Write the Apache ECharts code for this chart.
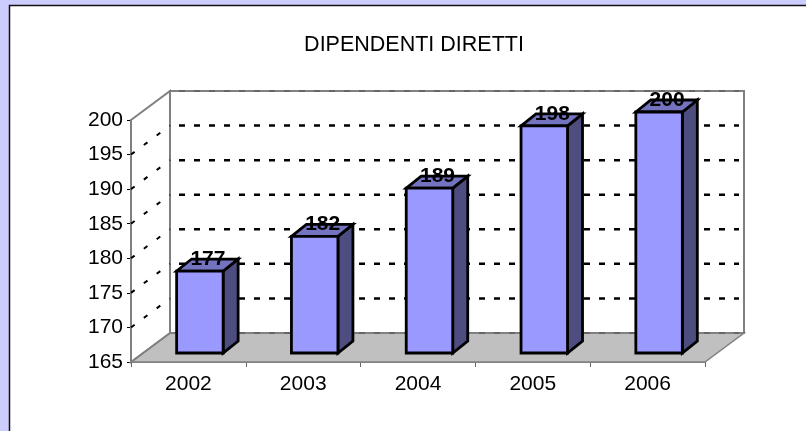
<!DOCTYPE html>
<html>
<head>
<meta charset="utf-8">
<style>
  html, body { margin: 0; padding: 0; background: #ccccff; }
  #chart { width: 806px; height: 431px; }
</style>
<script src="https://cdn.jsdelivr.net/npm/echarts@6/dist/echarts.min.js"></script>
</head>
<body>
<div id="chart"></div>
<script>
// Dipendenti diretti per anno
const years = ['2002', '2003', '2004', '2005', '2006'];
const employees = [177, 182, 189, 198, 200];
const yTicks = [165, 170, 175, 180, 185, 190, 195, 200];

const font = '"Liberation Sans", Arial, sans-serif';
const yMin = yTicks[0];
const yMax = yTicks[yTicks.length - 1];
// the back wall sits this far from the front plane
const depthX = 39;
const depthY = -29;

const chart = echarts.init(document.getElementById('chart'));

function poly(points, fill, stroke, lineWidth) {
    return {
        type: 'polygon',
        shape: { points: points },
        style: { fill: fill, stroke: stroke || 'none', lineWidth: lineWidth || 0, lineJoin: 'miter' }
    };
}

function dashed(x1, y1, x2, y2, lineWidth, dash, color) {
    return {
        type: 'line',
        shape: { x1: x1, y1: y1, x2: x2, y2: y2 },
        style: { stroke: color || '#000', lineWidth: lineWidth, lineDash: dash }
    };
}

// floor, walls and gridlines of the box
function renderBox(params, api) {
    const x0 = params.coordSys.x;
    const x1 = x0 + params.coordSys.width;
    const yTop = api.coord([0, yMax])[1];
    const yBottom = api.coord([0, yMin])[1];
    const children = [];

    children.push(poly([[x0, yBottom], [x1, yBottom], [x1 + depthX, yBottom + depthY], [x0 + depthX, yBottom + depthY]], '#c0c0c0', '#808080', 1.5));
    children.push(poly([[x0, yTop], [x0 + depthX, yTop + depthY], [x0 + depthX, yBottom + depthY], [x0, yBottom]], 'none', '#808080', 2));
    children.push(poly([[x0 + depthX, yTop + depthY], [x1 + depthX, yTop + depthY], [x1 + depthX, yBottom + depthY], [x0 + depthX, yBottom + depthY]], 'none', '#808080', 2));

    yTicks.forEach(function (t) {
        const y = api.coord([0, t])[1];
        if (t === yMin || t === yMax) {
            // the gridline shows faintly over the grey edge of the box
            children.push(dashed(x0 + depthX + 9, y + depthY, x1 + depthX - 5, y + depthY, 2, [6, 9], '#666'));
            return;
        }
        children.push(dashed(x0, y, x0 + depthX, y + depthY, 2, [4.5, 11.5]));
        children.push(dashed(x0 + depthX + 9, y + depthY, x1 + depthX - 5, y + depthY, 2.5, [6, 9]));
    });
    return { type: 'group', children: children };
}

// one column: front, top and side faces plus its value
function renderColumn(params, api) {
    const centre = api.coord([api.value(0), api.value(1)]);
    const base = api.coord([api.value(0), yMin]);
    const band = api.size([1, 0])[0];
    const w = band * 0.405;
    const shiftX = band * 0.1;
    const left = centre[0] + shiftX - w / 2;
    const right = left + w;
    const top = centre[1] - 8;
    const bottom = base[1] - 9;
    const dx = 15;
    const dy = -12;
    return {
        type: 'group',
        children: [
            poly([[right, top], [right + dx, top + dy], [right + dx, bottom + dy], [right, bottom]], '#4d4d80', '#000', 2.8),
            poly([[left, top], [right, top], [right + dx, top + dy], [left + dx, top + dy]], '#7373bf', '#000', 2.8),
            poly([[left, top], [right, top], [right, bottom], [left, bottom]], '#9999ff', '#000', 2.8),
            {
                type: 'text',
                z2: 20,
                style: {
                    x: centre[0] + 19.5,
                    y: top - 12,
                    text: String(api.value(1)),
                    fill: '#000',
                    font: 'bold 21px ' + font,
                    align: 'center',
                    verticalAlign: 'middle'
                }
            }
        ]
    };
}

chart.setOption({
    animation: false,
    backgroundColor: '#ccccff',
    graphic: [{
        type: 'rect',
        z: -10,
        shape: { x: 9.5, y: 5.5, width: 820, height: 460 },
        style: { fill: '#fff', stroke: '#111', lineWidth: 1.5 }
    }],
    title: {
        text: 'DIPENDENTI DIRETTI',
        left: 409,
        top: 29,
        textAlign: 'center',
        textStyle: { fontFamily: font, fontSize: 21.5, fontWeight: 'normal', color: '#000' }
    },
    grid: { left: 131, right: 101, top: 120, bottom: 69 },
    xAxis: {
        type: 'category',
        data: years,
        axisLine: { lineStyle: { color: '#666', width: 1.5 } },
        axisTick: { show: true, length: 5, alignWithLabel: false, lineStyle: { color: '#666' } },
        axisLabel: { fontFamily: font, fontSize: 21, color: '#000', margin: 12 },
        splitLine: { show: false }
    },
    yAxis: {
        type: 'value',
        min: yMin,
        max: yMax,
        interval: 5,
        axisLine: { show: true, lineStyle: { color: '#666', width: 2 } },
        axisTick: { show: true, length: 4, lineStyle: { color: '#000' } },
        axisLabel: { fontFamily: font, fontSize: 21, color: '#000', margin: 8 },
        splitLine: { show: false }
    },
    series: [
        {
            type: 'custom',
            renderItem: renderBox,
            data: [[0, yMin]],
            z: 1,
            silent: true
        },
        {
            type: 'custom',
            renderItem: renderColumn,
            data: years.map(function (y, i) { return [i, employees[i]]; }),
            encode: { x: 0, y: 1 },
            z: 5
        }
    ]
});
</script>
</body>
</html>
